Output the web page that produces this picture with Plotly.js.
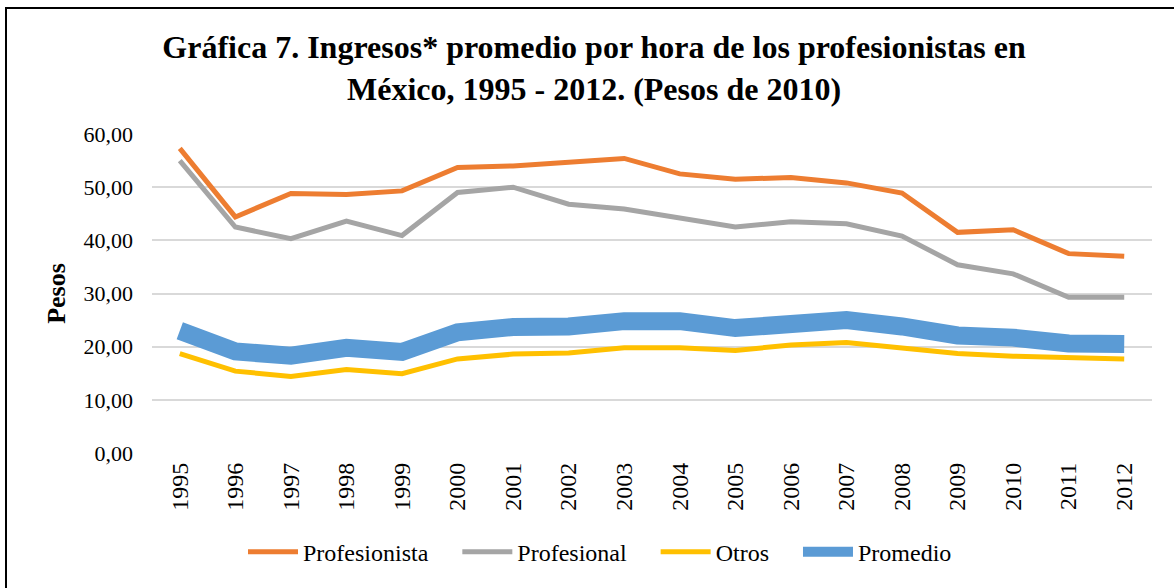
<!DOCTYPE html>
<html>
<head>
<meta charset="utf-8">
<script src="https://cdn.plot.ly/plotly-3.0.1.min.js"></script>
<style>
  html, body { margin: 0; padding: 0; background: #fff; }
  #frame { position: absolute; left: 5px; top: 7px; width: 1200px; height: 600px;
           border-left: 2px solid #000; border-top: 2px solid #000; }
  #chart { position: absolute; left: 0; top: 0; width: 1174px; height: 588px; }
</style>
</head>
<body>
<div id="frame"></div>
<div id="chart"></div>
<script>
var years = ["1995", "1996", "1997", "1998", "1999", "2000", "2001", "2002", "2003",
             "2004", "2005", "2006", "2007", "2008", "2009", "2010", "2011", "2012"];

var profesionista = [57.3, 44.4, 48.8, 48.6, 49.3, 53.7, 54.0, 54.8, 55.4,
                     52.5, 51.5, 51.8, 50.8, 48.9, 41.5, 42.0, 37.5, 37.0];
var profesional   = [55.0, 42.5, 40.3, 43.6, 40.9, 49.0, 50.0, 46.8, 45.9,
                     44.2, 42.5, 43.5, 43.1, 40.8, 35.4, 33.7, 29.3, 29.3];
var otros         = [18.7, 15.4, 14.4, 15.7, 14.9, 17.7, 18.6, 18.8, 19.8,
                     19.8, 19.3, 20.3, 20.8, 19.8, 18.7, 18.2, 17.9, 17.7];
var promedio      = [23.0, 19.1, 18.3, 19.8, 19.0, 22.7, 23.7, 23.8, 24.8,
                     24.8, 23.5, 24.5, 25.0, 23.8, 22.1, 21.7, 20.6, 20.5];

var serif = "'Liberation Serif', 'Times New Roman', serif";
// extra room after each legend entry (Excel spaces them wider than plotly)
var pad = "\u00a0\u00a0\u00a0\u00a0";

function line(name, y, color, width) {
  return {
    x: years, y: y, name: name, type: 'scatter', mode: 'lines',
    line: {color: color, width: width}
  };
}

var data = [
  line("Profesionista" + pad, profesionista, "#ED7D31", 5),
  line("Profesional" + pad, profesional, "#A5A5A5", 5),
  line("Otros" + pad, otros, "#FFC000", 5),
  line("Promedio", promedio, "#5B9BD5", 18)
];

var layout = {
  width: 1174, height: 588,
  margin: {l: 152, r: 22, t: 134, b: 134.5},
  paper_bgcolor: 'rgba(0,0,0,0)',
  plot_bgcolor: 'rgba(0,0,0,0)',
  separators: ',.',
  font: {family: serif, color: '#000', size: 22},
  title: {
    text: "Gráfica 7. Ingresos* promedio por hora de los profesionistas en<br>México, 1995 - 2012. (Pesos de 2010)",
    font: {family: serif, size: 32, color: '#000', weight: 'bold'},
    x: 0.506, xanchor: 'center', y: 0.901, yanchor: 'middle'
  },
  xaxis: {
    type: 'category',
    range: [-0.5, 17.5],
    tickangle: -90,
    showgrid: false, showline: false, zeroline: false,
    ticklabelstandoff: 4,
    tickfont: {family: serif, size: 24, color: '#000'}
  },
  yaxis: {
    range: [0, 60], dtick: 10, tickformat: '.2f',
    showgrid: true, gridcolor: '#D9D9D9', gridwidth: 1.5,
    zeroline: false, showline: false,
    tickfont: {family: serif, size: 22, color: '#000'},
    ticklabelstandoff: 18,
    title: {text: "Pesos", font: {family: serif, size: 26, color: '#000', weight: 'bold'}, standoff: 10}
  },
  showlegend: true,
  legend: {
    orientation: 'h', x: 0.448, xanchor: 'center', y: -0.311, yanchor: 'middle',
    font: {family: serif, size: 24, color: '#000'},
    traceorder: 'normal', itemwidth: 50
  }
};

Plotly.newPlot('chart', data, layout, {displayModeBar: false});
</script>
</body>
</html>
